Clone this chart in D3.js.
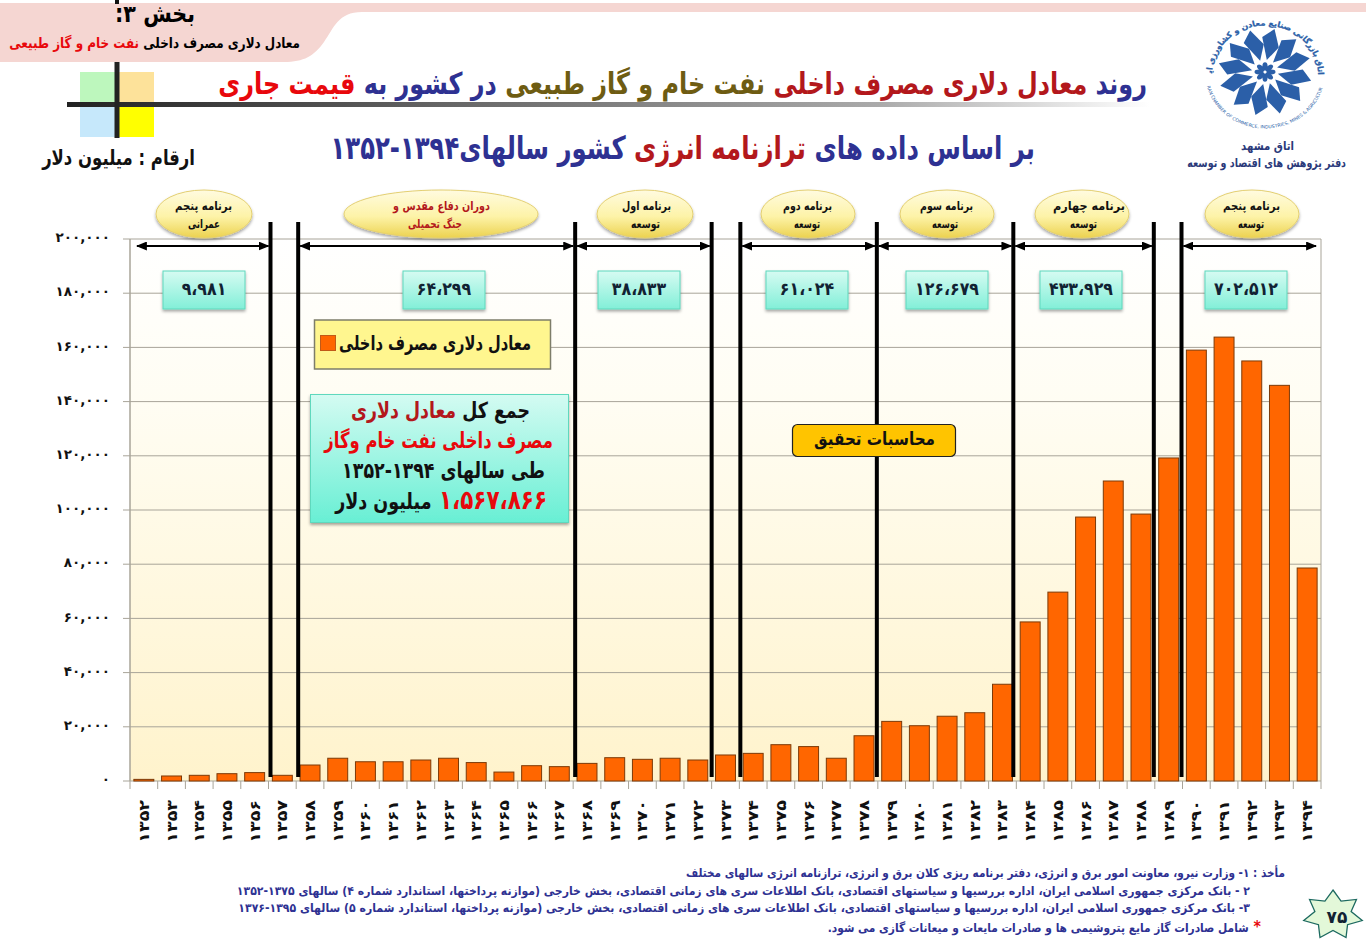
<!DOCTYPE html>
<html lang="fa">

<head>
    <meta charset="UTF-8">
    <title>روند معادل دلاری مصرف داخلی نفت خام و گاز طبیعی</title>
    <script src="https://d3js.org/d3.v7.min.js"></script>
    <style>
        body {
            margin: 0;
            background: #fff;
        }

        svg {
            display: block;
        }

        text {
            font-family: "DejaVu Sans", sans-serif;
            font-weight: bold;
        }

        .axis path {
            display: none;
        }

        .axis line {
            stroke: #a8a499;
        }

        .axis text {
            fill: #111;
            font-family: "DejaVu Sans", sans-serif;
        }

        .bar {
            fill: #ff6600;
            stroke: #7c3a08;
            stroke-width: 1;
        }

        .grid line {
            stroke: #a8a499;
        }
    </style>
</head>

<body>
    <svg width="1366" height="946"></svg>
    <script>
        const years = [1352, 1353, 1354, 1355, 1356, 1357, 1358, 1359, 1360, 1361, 1362, 1363, 1364, 1365, 1366, 1367,
            1368, 1369, 1370, 1371, 1372, 1373, 1374, 1375, 1376, 1377, 1378, 1379, 1380, 1381, 1382, 1383,
            1384, 1385, 1386, 1387, 1388, 1389, 1390, 1391, 1392, 1393, 1394];

        const values = [600, 1850, 2100, 2700, 3100, 2100, 5900, 8400, 7100, 7100, 7750, 8400, 6800, 3300, 5650, 5300,
            6500, 8600, 8000, 8400, 7750, 9600, 10200, 13400, 12700, 8400, 16700, 22000, 20400, 23900, 25200, 35700,
            58700, 69700, 97400, 110700, 98500, 119200, 159000, 163800, 155000, 146000, 78600];

        const yTickValues = [0, 20000, 40000, 60000, 80000, 100000, 120000, 140000, 160000, 180000, 200000];
        const yTickLabels = ["۰", "۲۰,۰۰۰", "۴۰,۰۰۰", "۶۰,۰۰۰", "۸۰,۰۰۰", "۱۰۰,۰۰۰", "۱۲۰,۰۰۰", "۱۴۰,۰۰۰", "۱۶۰,۰۰۰", "۱۸۰,۰۰۰", "۲۰۰,۰۰۰"];

        // years where a plan period starts or ends
        const breakYears = [1357, 1358, 1368, 1373, 1374, 1379, 1384, 1389, 1390];
        const breakNudge = [2, 2, 2, 0, 1, -1, -3, -1, -1];

        const planNames = [
            ["برنامه پنجم", "عمرانی"], ["دوران دفاع مقدس و", "جنگ تحمیلی"], ["برنامه اول", "توسعه"], ["برنامه دوم", "توسعه"],
            ["برنامه سوم", "توسعه"], ["برنامه چهارم", "توسعه"], ["برنامه پنجم", "توسعه"]
        ];
        const planTotals = ["۹،۹۸۱", "۶۴،۲۹۹", "۳۸،۸۳۳", "۶۱،۰۲۴", "۱۲۶،۶۷۹", "۴۳۳،۹۲۹", "۷۰۲،۵۱۲"];

        const width = 1366;
        const height = 946;
        const margin = { top: 239, right: 45, bottom: 165, left: 130 };

        const navy = "#2e3192";
        const darkRed = "#b3181c";
        const red = "#e8080c";
        const olive = "#6e5c12";

        const persian = d => String(d).replace(/\d/g, c => "۰۱۲۳۴۵۶۷۸۹"[c]);

        const svg = d3.select("svg");
        const defs = svg.append("defs");

        function gradient(id, stops, horizontal) {
            const g = defs.append("linearGradient").attr("id", id)
                .attr("x1", 0).attr("y1", 0)
                .attr("x2", horizontal ? 1 : 0).attr("y2", horizontal ? 0 : 1);
            stops.forEach(s => g.append("stop").attr("offset", s[0]).attr("stop-color", s[1]));
        }
        gradient("plotBg", [[0, "#ffffff"], [0.3, "#fffdf3"], [1, "#fff3cc"]]);
        gradient("ruleFade", [[0, "#222222"], [0.35, "#666666"], [0.75, "#aaaaaa"], [1, "#ffffff"]], true);
        gradient("oval", [[0, "#fffbe0"], [0.55, "#fdf3a8"], [1, "#ecd24f"]]);
        gradient("teal", [[0, "#d6fbf2"], [1, "#82efd8"]]);
        gradient("tealBig", [[0, "#d4fbf2"], [1, "#68efd4"]]);

        const shadow = defs.append("filter").attr("id", "shadow")
            .attr("x", "-10%").attr("y", "-10%").attr("width", "120%").attr("height", "130%");
        shadow.append("feDropShadow").attr("dx", 0).attr("dy", 2).attr("stdDeviation", 1.5)
            .attr("flood-color", "#000").attr("flood-opacity", 0.35);

        defs.append("marker").attr("id", "arrow").attr("viewBox", "0 0 10 10")
            .attr("refX", 9).attr("refY", 5)
            .attr("markerWidth", 11).attr("markerHeight", 9).attr("markerUnits", "userSpaceOnUse")
            .attr("preserveAspectRatio", "none")
            .attr("orient", "auto-start-reverse")
            .append("path").attr("d", "M0,0L10,5L0,10Z").attr("fill", "#000");

        // rtl text from right edge to left edge, squeezed to the width of the original
        function rtlText(parent, left, right, y, size, parts) {
            const t = parent.append("text")
                .attr("direction", "rtl")
                .attr("text-anchor", "start")
                .style("font-size", size + "px");
            parts.forEach(p => {
                const span = t.append("tspan").attr("fill", p[1]).text(p[0]);
                if (p[2]) span.style("font-size", p[2] + "px");
            });
            const k = (right - left) / t.node().getComputedTextLength();
            t.attr("transform", `translate(${right},${y}) scale(${k},1)`);
            return t;
        }

        // page furniture
        svg.append("path")
            .attr("d", "M0,3H1366V12H362C338,12 334,28 324,42C314,56 304,62 284,62H0Z")
            .attr("fill", "#f5d6d2");
        svg.append("rect").attr("x", 115).attr("y", 0).attr("width", 4).attr("height", 4).attr("fill", "#111");

        rtlText(svg, 115, 195, 22, 24, [["بخش ۳:", "#000"]]);
        rtlText(svg, 9, 300, 48, 14.5, [["معادل دلاری مصرف داخلی ", "#000"], ["نفت خام و گاز طبیعی", red]]);

        svg.append("rect").attr("x", 80).attr("y", 72).attr("width", 37).attr("height", 33).attr("fill", "#bdf7bd");
        svg.append("rect").attr("x", 117).attr("y", 72).attr("width", 37).attr("height", 33).attr("fill", "#fde29a");
        svg.append("rect").attr("x", 80).attr("y", 105).attr("width", 37).attr("height", 32).attr("fill", "#c6e8fb");
        svg.append("rect").attr("x", 117).attr("y", 105).attr("width", 37).attr("height", 32).attr("fill", "#ffff00");
        svg.append("rect").attr("x", 67).attr("y", 102).attr("width", 1083).attr("height", 5).attr("fill", "url(#ruleFade)");
        svg.append("rect").attr("x", 114.5).attr("y", 62).attr("width", 5).attr("height", 76).attr("fill", "#222");

        rtlText(svg, 218, 1147, 94, 30, [
            ["روند ", navy], ["معادل دلاری مصرف داخلی ", darkRed], ["نفت خام و گاز طبیعی ", olive],
            ["در کشور به ", navy], ["قیمت جاری", red]
        ]);
        rtlText(svg, 330, 1035, 159, 32, [
            ["بر اساس داده های ", navy], ["ترازنامه انرژی ", darkRed], ["کشور سالهای۱۳۹۴-۱۳۵۲", navy]
        ]);
        rtlText(svg, 42, 195, 165, 21, [["ارقام : میلیون دلار", "#111"]]);

        // chamber logo
        const logo = svg.append("g").attr("transform", "translate(1265,72) scale(1,0.93)");
        defs.append("path").attr("id", "ringTop").attr("d", "M-53,3A53,53 0 1 1 53,3");
        defs.append("path").attr("id", "ringBottom").attr("d", "M-58,16A60,60 0 0 0 58,16");
        d3.range(12).forEach(i => {
            logo.append("path")
                .attr("d", "M0,-13L10,-28L3,-47L-8,-37Z")
                .attr("transform", `rotate(${i * 30 + 8})`)
                .attr("fill", "#2b5fa8");
        });
        d3.range(8).forEach(i => {
            logo.append("ellipse").attr("cx", 0).attr("cy", -6).attr("rx", 2.6).attr("ry", 4.5)
                .attr("transform", `rotate(${i * 45})`).attr("fill", "#2b5fa8");
        });
        logo.append("text").attr("fill", "#2b5fa8").attr("stroke", "#2b5fa8").attr("stroke-width", 0.3)
            .style("font-size", "8.2px")
            .attr("direction", "rtl")
            .append("textPath").attr("href", "#ringTop").attr("startOffset", "100%")
            .attr("text-anchor", "start")
            .text("اتاق بازرگانی صنایع معادن و کشاورزی ایران");
        logo.append("text").attr("fill", "#2b5fa8")
            .style("font-size", "4.7px").style("font-weight", "normal")
            .append("textPath").attr("href", "#ringBottom").attr("startOffset", "50%")
            .attr("text-anchor", "middle")
            .text("IRAN CHAMBER OF COMMERCE, INDUSTRIES, MINES & AGRICULTURE");

        rtlText(svg, 1241, 1294, 150, 12, [["اتاق مشهد", "#2b3a7a"]]);
        rtlText(svg, 1187, 1346, 167, 12, [["دفتر پژوهش های اقتصاد و توسعه", "#2b3a7a"]]);

        // chart
        const xScale = d3.scaleBand()
            .domain(years)
            .range([margin.left, width - margin.right]);

        const barScale = d3.scaleBand()
            .domain(years)
            .range([margin.left, width - margin.right])
            .paddingInner(0.28)
            .paddingOuter(0.14);

        const yScale = d3.scaleLinear()
            .domain([0, 200000])
            .range([height - margin.bottom, margin.top]);

        svg.append("rect")
            .attr("x", margin.left).attr("y", margin.top)
            .attr("width", width - margin.left - margin.right)
            .attr("height", height - margin.top - margin.bottom)
            .attr("fill", "url(#plotBg)");

        svg.append("g").attr("class", "grid")
            .selectAll("line").data(yTickValues).join("line")
            .attr("x1", margin.left - 7).attr("x2", width - margin.right)
            .attr("y1", d => yScale(d)).attr("y2", d => yScale(d));

        svg.append("line")
            .attr("x1", width - margin.right).attr("x2", width - margin.right)
            .attr("y1", margin.top).attr("y2", height - margin.bottom)
            .attr("stroke", "#a8a499");

        const yAxis = svg.append("g")
            .attr("class", "axis")
            .attr("transform", `translate(${margin.left},0)`)
            .call(d3.axisLeft(yScale)
                .tickValues(yTickValues)
                .tickFormat((d, i) => yTickLabels[i])
                .tickSize(0)
                .tickPadding(20));
        yAxis.selectAll("text").style("font-size", "13.5px").attr("dy", "0.2em");
        svg.append("line")
            .attr("x1", margin.left).attr("x2", margin.left)
            .attr("y1", margin.top).attr("y2", height - margin.bottom)
            .attr("stroke", "#a8a499").attr("stroke-width", 1.5);

        svg.selectAll(".bar").data(values).join("rect")
            .attr("class", "bar")
            .attr("x", (d, i) => barScale(years[i]))
            .attr("width", barScale.bandwidth())
            .attr("y", d => yScale(d))
            .attr("height", d => yScale(0) - yScale(d));

        const xAxis = svg.append("g")
            .attr("class", "axis")
            .attr("transform", `translate(0,${height - margin.bottom})`)
            .call(d3.axisBottom(xScale).tickFormat(persian).tickSize(0).tickPadding(0));
        xAxis.selectAll("text")
            .style("font-size", "14px")
            .attr("text-anchor", "end")
            .attr("x", 0).attr("y", 0).attr("dy", 0)
            .attr("transform", "translate(5,19) rotate(-90) scale(1.25,1)");
        // tick marks sit on the edges of the bands, not the centres
        svg.append("g").selectAll("line").data(years.concat("end")).join("line")
            .attr("x1", d => d === "end" ? width - margin.right : xScale(d))
            .attr("x2", d => d === "end" ? width - margin.right : xScale(d))
            .attr("y1", height - margin.bottom).attr("y2", height - margin.bottom + 8)
            .attr("stroke", "#a8a499");

        // plan period decorations
        const breaks = breakYears.map((y, i) => xScale(y) + breakNudge[i]);
        svg.append("g").selectAll("line").data(breaks).join("line")
            .attr("x1", d => d).attr("x2", d => d)
            .attr("y1", 222).attr("y2", 777)
            .attr("stroke", "#000").attr("stroke-width", 4);

        const spans = [[135, breaks[0]], [breaks[1], breaks[2]], [breaks[2], breaks[3]], [breaks[4], breaks[5]],
            [breaks[5], breaks[6]], [breaks[6], breaks[7]], [breaks[8], 1318]];
        svg.append("g").selectAll("line").data(spans).join("line")
            .attr("x1", d => d[0] + 2).attr("x2", d => d[1] - 2)
            .attr("y1", 246).attr("y2", 246)
            .attr("stroke", "#000").attr("stroke-width", 2)
            .attr("marker-start", "url(#arrow)").attr("marker-end", "url(#arrow)");

        const ovalX = [204, 441, 645, 808, 947, 1082, 1252];
        const ovalRx = [48, 97, 48, 47, 47, 47, 47];
        const ovalText = [[175, 232, 188, 220], [393, 490, 408, 462], [622, 671, 631, 660], [783, 832, 794, 820],
            [920, 973, 932, 958], [1053, 1125, 1070, 1097], [1223, 1280, 1238, 1264]];
        planNames.forEach((lines, i) => {
            svg.append("ellipse")
                .attr("cx", ovalX[i]).attr("cy", 214).attr("rx", ovalRx[i]).attr("ry", 24)
                .attr("fill", "url(#oval)").attr("stroke", "#e3cf72").attr("filter", "url(#shadow)");
            const c = i === 1 ? darkRed : "#111";
            rtlText(svg, ovalText[i][0], ovalText[i][1], 210, 12, [[lines[0], c]]);
            rtlText(svg, ovalText[i][2], ovalText[i][3], 228, 12, [[lines[1], c]]);
        });

        const totalX = [163, 403, 598, 766, 906, 1040, 1205];
        planTotals.forEach((d, i) => {
            svg.append("rect")
                .attr("x", totalX[i]).attr("y", 271).attr("width", 82).attr("height", 38)
                .attr("fill", "url(#teal)").attr("stroke", "#5fd8bd").attr("filter", "url(#shadow)");
            svg.append("text")
                .attr("transform", `translate(${totalX[i] + 41},295) scale(0.88,1)`)
                .attr("text-anchor", "middle")
                .attr("fill", "#123")
                .style("font-size", "18px")
                .text(d);
        });

        // legend
        svg.append("rect").attr("x", 314.5).attr("y", 320).attr("width", 236).attr("height", 49)
            .attr("fill", "#fff68f").attr("stroke", "#7d7d6a").attr("stroke-width", 1.5);
        svg.append("rect").attr("x", 320.5).attr("y", 335.5).attr("width", 15).attr("height", 15)
            .attr("fill", "#ff6600").attr("stroke", "#c05a18");
        rtlText(svg, 339, 531, 350, 20, [["معادل دلاری مصرف داخلی", "#111"]]);

        // total box
        svg.append("rect").attr("x", 310.5).attr("y", 394.5).attr("width", 258).attr("height", 128)
            .attr("fill", "url(#tealBig)").attr("stroke", "#5fd8bd").attr("filter", "url(#shadow)");
        rtlText(svg, 351, 530, 418, 22, [["جمع کل ", "#111"], ["معادل دلاری", darkRed]]);
        rtlText(svg, 324, 553, 448, 22, [["مصرف داخلی نفت خام وگاز", red]]);
        rtlText(svg, 342, 545, 478, 22, [["طی سالهای ۱۳۹۴-۱۳۵۲", "#111"]]);
        rtlText(svg, 335, 547, 509, 22, [["۱،۵۶۷،۸۶۶ ", red, 27], ["میلیون دلار", "#111"]]);

        // research note
        svg.append("rect").attr("x", 792.5).attr("y", 424.5).attr("width", 163).attr("height", 32).attr("rx", 5)
            .attr("fill", "#ffc400").attr("stroke", "#222").attr("stroke-width", 1.2);
        rtlText(svg, 814, 935, 445, 18, [["محاسبات تحقیق", "#111"]]);

        // sources
        rtlText(svg, 685, 1285, 877, 12, [["مأخذ : ۱- وزارت نیرو، معاونت امور برق و انرژی، دفتر برنامه ریزی کلان برق و انرژی، ترازنامه انرژی سالهای مختلف", navy]]);
        rtlText(svg, 236, 1250, 895, 12, [["۲ - بانک مرکزی جمهوری اسلامی ایران، اداره بررسیها و سیاستهای اقتصادی، بانک اطلاعات سری های زمانی اقتصادی، بخش خارجی (موازنه پرداختها، استاندارد شماره ۴) سالهای ۱۳۷۵-۱۳۵۲", navy]]);
        rtlText(svg, 238, 1250, 912, 12, [["۳- بانک مرکزی جمهوری اسلامی ایران، اداره بررسیها و سیاستهای اقتصادی، بانک اطلاعات سری های زمانی اقتصادی، بخش خارجی (موازنه پرداختها، استاندارد شماره ۵) سالهای ۱۳۹۵-۱۳۷۶", navy]]);
        rtlText(svg, 827, 1261, 932, 12, [["* ", red, 16], ["شامل صادرات گاز مایع پتروشیمی ها و صادرات مایعات و میعانات گازی می شود.", navy]]);

        // page number star
        const starPts = d3.range(14).map(i => {
            const k = i % 2 === 0 ? 1 : 0.62;
            const a = i * Math.PI / 7;
            return [1333 + 30 * k * Math.sin(a), 915 - 25 * k * Math.cos(a)];
        });
        svg.append("polygon").attr("points", starPts.join(" "))
            .attr("fill", "#e3f8d9").attr("stroke", "#1d6a60").attr("stroke-width", 1.3);
        svg.append("text").attr("x", 1337).attr("y", 923).attr("text-anchor", "middle")
            .attr("fill", "#123").style("font-size", "17px").text("۷۵");
    </script>
</body>

</html>
